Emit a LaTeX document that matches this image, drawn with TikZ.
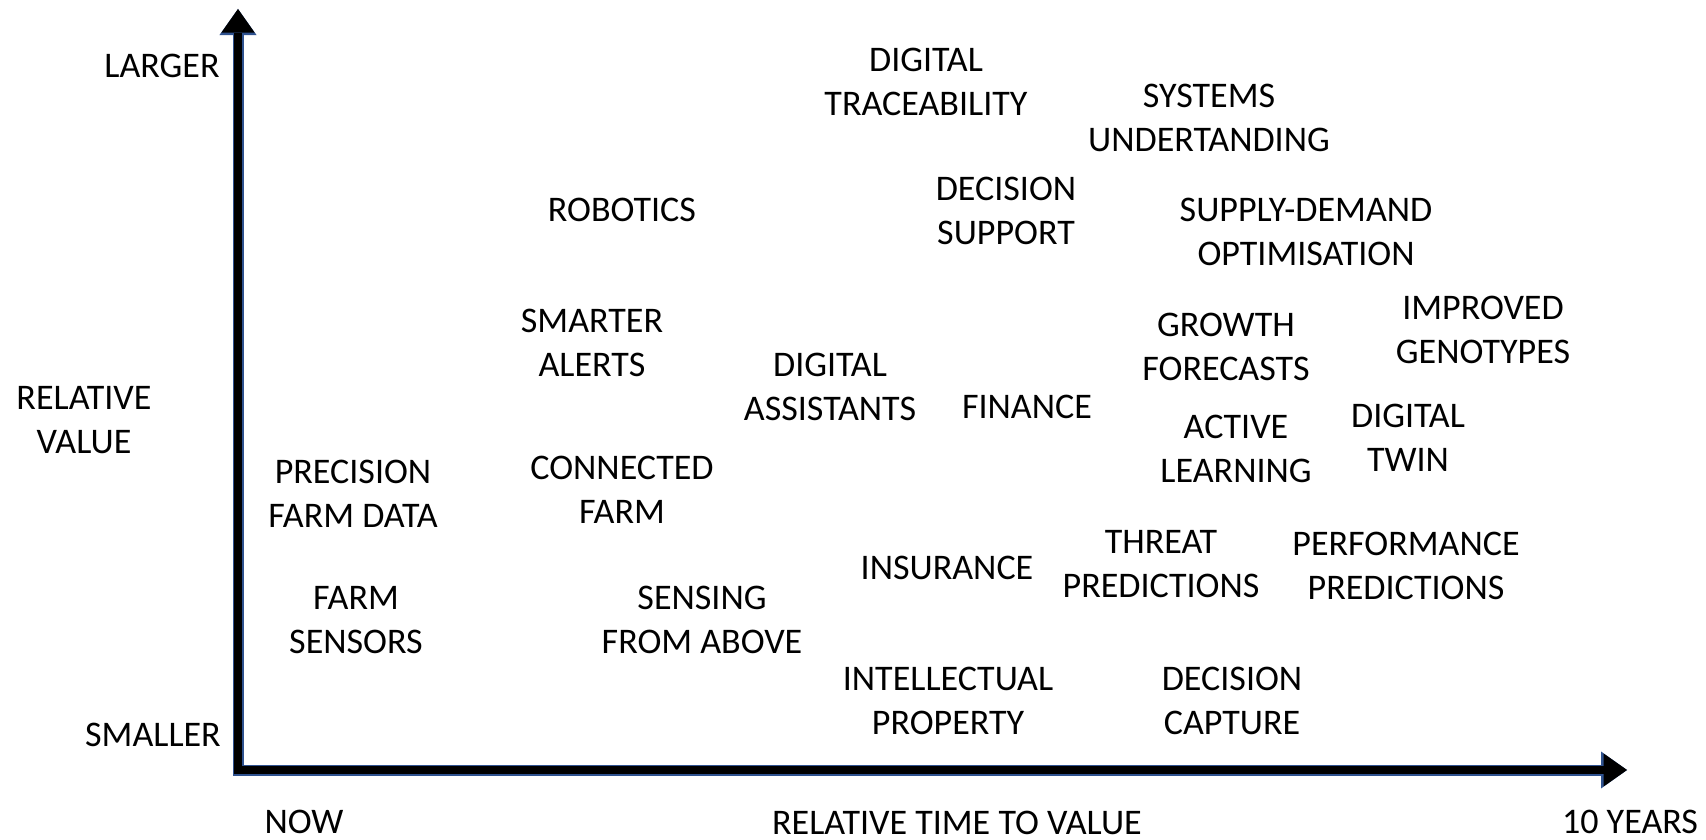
\documentclass[tikz,border=0pt]{standalone}
\usepackage{fontspec}
\setmainfont{Carlito}
\usetikzlibrary{arrows.meta}
\definecolor{bordaxe}{HTML}{2F528F}
\tikzstyle{tech}=[align=center,inner sep=0pt,text=black,
font=\fontsize{10.25}{12.5}\selectfont]
\tikzstyle{axebord}=[line width=0.11cm,draw=bordaxe,line join=miter,
arrows={Triangle[length=0.26cm,width=0.37cm,line width=0pt]-Triangle[length=0.26cm,width=0.37cm,line width=0pt]}]
\tikzstyle{axe}=[line width=0.08cm,draw=black,line join=miter,
arrows={Triangle[length=0.235cm,width=0.33cm,line width=0pt]-Triangle[length=0.235cm,width=0.33cm,line width=0pt]}]
\begin{document}
\begin{tikzpicture}[x=0.01cm,y=-0.01cm]
\useasboundingbox (0,0) rectangle (1706,840);
%Axes
\coordinate (ytip) at (238,9);
\coordinate (origine) at (238,770);
\coordinate (xtip) at (1627,770);
\draw[axebord] (ytip) -- (origine) -- (xtip);
\draw[axe] (ytip) -- (origine) -- (xtip);
\node[tech] (larger) at (162,66) {LARGER};
\node[tech] (relval) at (84,420) {RELATIVE\\VALUE};
\node[tech] (smaller) at (153,735) {SMALLER};
\node[tech] (now) at (304,822) {NOW};
\node[tech] (rttv) at (957,823) {RELATIVE TIME TO VALUE};
\node[tech] (tenyears) at (1630,822) {10 YEARS};
%Themes
\node[tech] (trace) at (926,82) {DIGITAL\\TRACEABILITY};
\node[tech] (systems) at (1209,118) {SYSTEMS\\UNDERTANDING};
\node[tech] (robotics) at (622,210) {ROBOTICS};
\node[tech] (decision) at (1006,211) {DECISION\\SUPPORT};
\node[tech] (supply) at (1306,232) {SUPPLY-DEMAND\\OPTIMISATION};
\node[tech] (alerts) at (592,343) {SMARTER\\ALERTS};
\node[tech] (growth) at (1226,347) {GROWTH\\FORECASTS};
\node[tech] (genotypes) at (1483,330) {IMPROVED\\GENOTYPES};
\node[tech] (assist) at (830,387) {DIGITAL\\ASSISTANTS};
\node[tech] (finance) at (1027,407) {FINANCE};
\node[tech] (active) at (1236,449) {ACTIVE\\LEARNING};
\node[tech] (twin) at (1408,438) {DIGITAL\\TWIN};
\node[tech] (precision) at (353,494) {PRECISION\\FARM DATA};
\node[tech] (connected) at (622,490) {CONNECTED\\FARM};
\node[tech] (insurance) at (947,568) {INSURANCE};
\node[tech] (threat) at (1161,564) {THREAT\\PREDICTIONS};
\node[tech] (perf) at (1406,566) {PERFORMANCE\\PREDICTIONS};
\node[tech] (sensors) at (356,620) {FARM\\SENSORS};
\node[tech] (sensing) at (702,620) {SENSING\\FROM ABOVE};
\node[tech] (ip) at (948,701) {INTELLECTUAL\\PROPERTY};
\node[tech] (capture) at (1232,701) {DECISION\\CAPTURE};
\end{tikzpicture}
\end{document}
